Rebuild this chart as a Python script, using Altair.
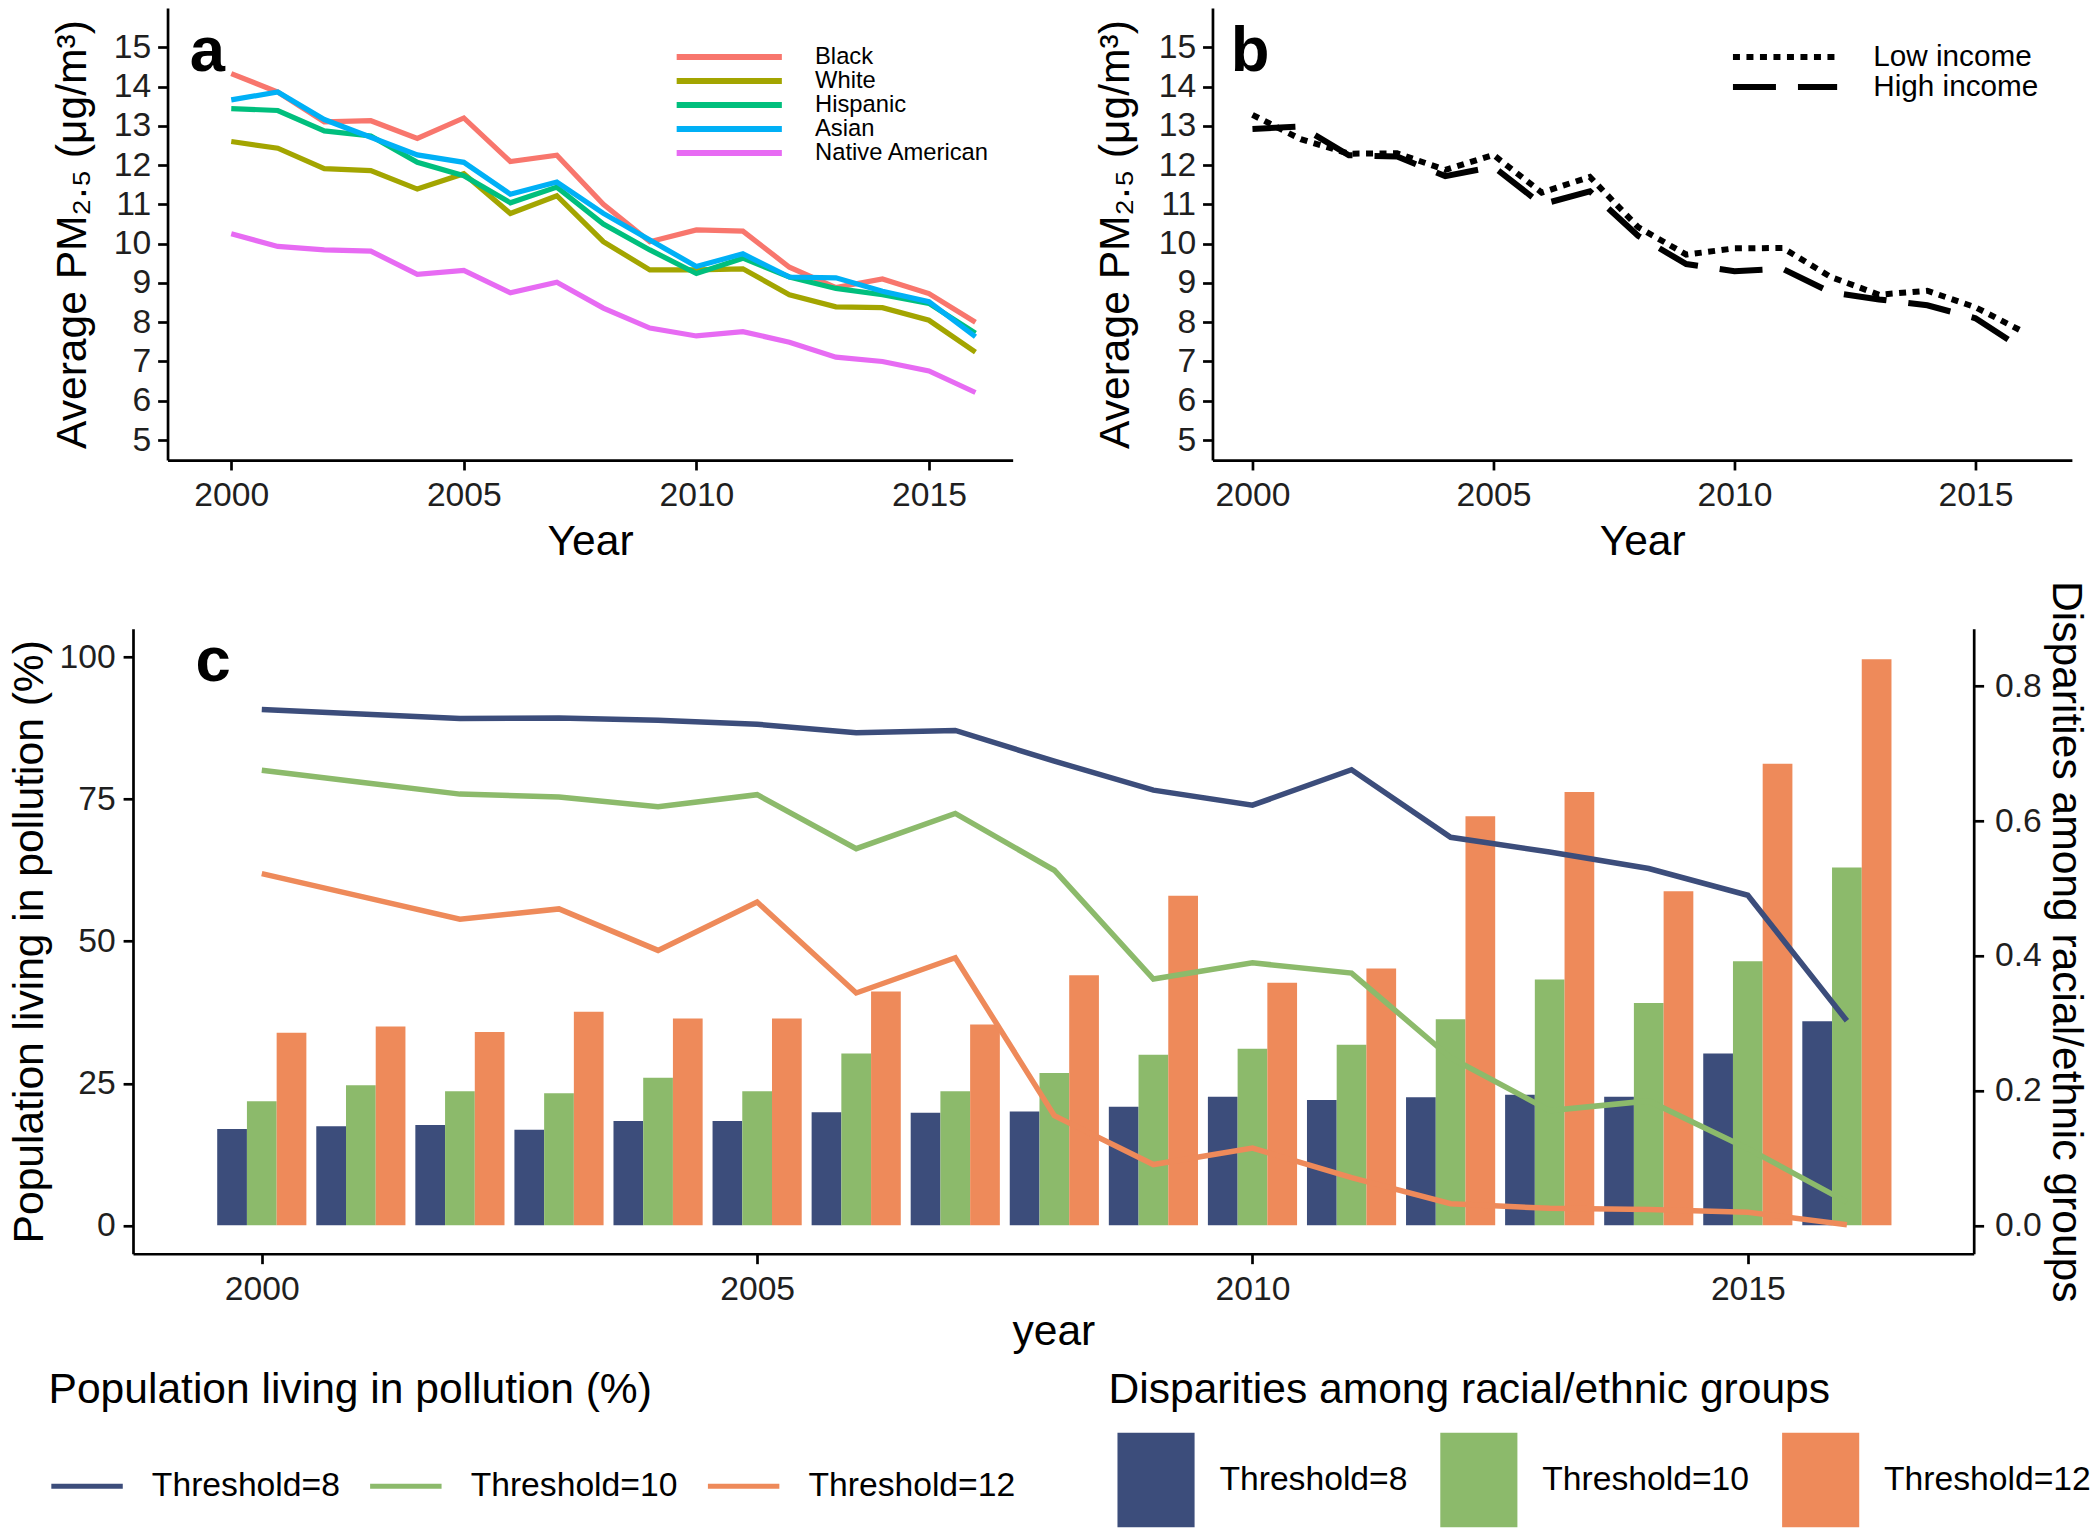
import altair as alt
import pandas as pd

# ---------------- layout helpers (reference px -> page px) ----------------
SX, SY, SF = 0.9924, 0.984, 0.99


def sx(v):
    return round(v * SX, 2)


def sy(v):
    return round(v * SY, 2)


def sf(v):
    return round(v * SF, 2)


FONT = "Liberation Sans"
INK = "#1f1f1f"

# ---------------- data ----------------
years = list(range(2000, 2017))

race_groups = ["Black", "White", "Hispanic", "Asian", "Native American"]
race_colors = ["#F8766D", "#A3A500", "#00BF7D", "#00B0F6", "#E76BF3"]
pm_black = [14.33, 13.86, 13.10, 13.13, 12.68, 13.20, 12.09, 12.25, 11.00, 10.05, 10.35, 10.32, 9.40, 8.88, 9.10, 8.73, 8.00]
pm_white = [12.60, 12.43, 11.91, 11.86, 11.39, 11.78, 10.77, 11.22, 10.05, 9.33, 9.33, 9.36, 8.70, 8.39, 8.37, 8.05, 7.24]
pm_hispanic = [13.44, 13.39, 12.87, 12.74, 12.07, 11.73, 11.04, 11.44, 10.50, 9.84, 9.24, 9.63, 9.15, 8.86, 8.70, 8.48, 7.72]
pm_asian = [13.66, 13.86, 13.16, 12.71, 12.26, 12.07, 11.26, 11.57, 10.77, 10.09, 9.42, 9.74, 9.15, 9.13, 8.79, 8.52, 7.63]
pm_native = [10.25, 9.93, 9.84, 9.81, 9.22, 9.32, 8.75, 9.02, 8.36, 7.85, 7.65, 7.76, 7.49, 7.11, 7.00, 6.76, 6.21]

income_groups = ["Low income", "High income"]
pm_low = [13.28, 12.66, 12.29, 12.30, 11.88, 12.26, 11.30, 11.70, 10.42, 9.72, 9.88, 9.89, 9.15, 8.70, 8.80, 8.38, 7.75]
pm_high = [12.92, 12.98, 12.25, 12.22, 11.72, 11.96, 11.00, 11.33, 10.20, 9.48, 9.30, 9.36, 8.76, 8.58, 8.43, 8.10, 7.30]

thresholds = ["Threshold=8", "Threshold=10", "Threshold=12"]
c_colors = ["#3C4D7B", "#8CBA6B", "#EE8A5A"]
pop_t8 = [90.8, 90.0, 89.2, 89.3, 88.9, 88.2, 86.7, 87.1, 81.7, 76.6, 73.95, 80.2, 68.3, 65.7, 62.8, 58.1, 36.0]
pop_t10 = [80.1, 78.0, 75.9, 75.4, 73.7, 75.8, 66.3, 72.5, 62.5, 43.35, 46.2, 44.4, 29.5, 20.2, 21.9, 13.5, 4.1]
pop_t12 = [61.9, 57.9, 53.9, 55.7, 48.4, 56.9, 40.9, 47.1, 19.3, 10.7, 13.6, 8.4, 3.8, 3.0, 2.8, 2.3, 0.1]
disp_t8 = [0.143, 0.147, 0.149, 0.142, 0.155, 0.155, 0.168, 0.167, 0.169, 0.176, 0.191, 0.186, 0.190, 0.194, 0.191, 0.255, 0.303]
disp_t10 = [0.184, 0.208, 0.199, 0.196, 0.219, 0.199, 0.255, 0.199, 0.226, 0.253, 0.262, 0.268, 0.306, 0.365, 0.330, 0.392, 0.531]
disp_t12 = [0.286, 0.295, 0.287, 0.317, 0.307, 0.307, 0.347, 0.298, 0.371, 0.489, 0.360, 0.381, 0.607, 0.643, 0.496, 0.685, 0.840]
disp_to_pct = 118.6  # secondary-axis factor

year_ticks = [2000, 2005, 2010, 2015]

# ---------------- tables ----------------
df_a = pd.DataFrame([
    {"year": y, "group": g, "pm": v}
    for g, vals in zip(race_groups, [pm_black, pm_white, pm_hispanic, pm_asian, pm_native])
    for y, v in zip(years, vals)
])
df_b = pd.DataFrame([
    {"year": y, "income": g, "pm": v}
    for g, vals in zip(income_groups, [pm_low, pm_high])
    for y, v in zip(years, vals)
])
df_c = pd.DataFrame([
    {"year": y, "group": g, "idx": i, "pct": p, "disp": d}
    for i, (g, pv, dv) in enumerate(zip(thresholds, [pop_t8, pop_t10, pop_t12], [disp_t8, disp_t10, disp_t12]))
    for y, p, d in zip(years, pv, dv)
])


def axis_style(**kw):
    base = dict(domainColor="black", domainWidth=2.7, tickColor="black", tickWidth=2.7,
                tickSize=sx(10), labelFont=FONT, labelFontSize=sf(34), labelColor=INK,
                titleFont=FONT, titleFontSize=sf(43), titleFontWeight="normal", titleColor="black",
                grid=False, labelFlush=False, labelOverlap=False)
    base.update(kw)
    return alt.Axis(**base)


C_LEFT = 128.6   # left edge of panel c's plot (panel a's view starts here too)

# ---------------- panel a ----------------
A_AXIS = 163.4
a_x = alt.X("year:Q",
            scale=alt.Scale(domain=[1998.63, 2016.8], range=[sx(A_AXIS - C_LEFT), sx(1015 - C_LEFT)],
                            nice=False, zero=False),
            axis=axis_style(values=year_ticks, format="d", title="Year",
                            labelPadding=sy(9), titlePadding=sy(8)))
a_y = alt.Y("pm:Q", scale=alt.Scale(domain=[4.49, 16.0], nice=False, zero=False),
            axis=axis_style(values=list(range(5, 16)), title="Average PM₂.₅ (μg/m³)",
                            offset=-sx(A_AXIS - C_LEFT), labelPadding=sx(7), titlePadding=sx(19)))

a_lines = alt.Chart(df_a).mark_line(strokeWidth=5.2).encode(
    x=a_x, y=a_y,
    color=alt.Color("group:N", sort=race_groups,
                    scale=alt.Scale(domain=race_groups, range=race_colors),
                    legend=alt.Legend(orient="none", legendX=sx(673 - C_LEFT), legendY=sy(54.8 - 11.5) - 5,
                                      title=None, direction="vertical", symbolType="stroke",
                                      symbolSize=sx(106) ** 2, symbolStrokeWidth=6, clipHeight=sy(23),
                                      labelFont=FONT, labelFontSize=sf(24), labelColor="black",
                                      labelOffset=sx(30), labelLimit=600, rowPadding=-2, padding=0)),
)
a_label = alt.Chart(pd.DataFrame({"year": [1999.11], "pm": [14.4], "t": ["a"]})).mark_text(
    font=FONT, fontSize=sf(64), fontWeight="bold", align="left", baseline="alphabetic", color="black"
).encode(x=a_x, y=a_y, text="t:N")
panel_a = alt.layer(a_lines, a_label).properties(width=sx(1015 - C_LEFT), height=sy(459.4))

# ---------------- panel b ----------------
B_LEFT = 1216
b_x = alt.X("year:Q", scale=alt.Scale(domain=[1999.17, 2017.0], nice=False, zero=False),
            axis=axis_style(values=year_ticks, format="d", title="Year",
                            labelPadding=sy(9), titlePadding=sy(8)))
b_y = alt.Y("pm:Q", scale=alt.Scale(domain=[4.49, 16.0], nice=False, zero=False),
            axis=axis_style(values=list(range(5, 16)), title="Average PM₂.₅ (μg/m³)",
                            labelPadding=sx(7), titlePadding=sx(21)))
b_lines = alt.Chart(df_b).mark_line(strokeWidth=6, color="black").encode(
    x=b_x, y=b_y,
    strokeDash=alt.StrokeDash("income:N", sort=income_groups,
                              scale=alt.Scale(domain=income_groups, range=[[7, 6.5], [43, 22]]),
                              legend=alt.Legend(orient="none", legendX=sx(1732 - B_LEFT) + 5, legendY=sy(55 - 15) - 5,
                                                title=None, direction="vertical", symbolType="stroke",
                                                symbolSize=sx(105) ** 2, symbolStrokeWidth=6,
                                                symbolStrokeColor="black", clipHeight=sy(30),
                                                labelFont=FONT, labelFontSize=sf(30), labelColor="black",
                                                labelOffset=sx(33), labelLimit=600, rowPadding=-2, padding=0)),
)
b_label = alt.Chart(pd.DataFrame({"year": [1999.55], "pm": [14.4], "t": ["b"]})).mark_text(
    font=FONT, fontSize=sf(64), fontWeight="bold", align="left", baseline="alphabetic", color="black"
).encode(x=b_x, y=b_y, text="t:N")
panel_b = alt.layer(b_lines, b_label).properties(width=sx(2082 - B_LEFT), height=sy(459.4))

# ---------------- panel c ----------------
c_xscale = alt.Scale(domain=[1998.7, 2017.28], nice=False, zero=False)
c_xaxis = axis_style(values=year_ticks, format="d", title="year", labelPadding=sy(9), titlePadding=sy(4.5))
c_y_left = alt.Y("pct:Q", scale=alt.Scale(domain=[-5, 105], nice=False, zero=False),
                 axis=axis_style(orient="left", values=[0, 25, 50, 75, 100],
                                 title="Population living in pollution (%)",
                                 labelPadding=sx(8), titlePadding=sx(8)))
c_x_year = alt.X("year:Q", scale=c_xscale, axis=c_xaxis)

C_H = sy(627) + 8
LEG_Y = sy(1378.8 - 632) + 5

bars = alt.Chart(df_c).transform_calculate(
    x_lo="datum.year - 0.45 + 0.3 * datum.idx",
    x_hi="datum.year - 0.15 + 0.3 * datum.idx",
).mark_bar().encode(
    x=alt.X("x_lo:Q", scale=c_xscale, axis=c_xaxis),
    x2="x_hi:Q",
    y=alt.Y("disp:Q",
            scale=alt.Scale(domain=[-5 / disp_to_pct, 105 / disp_to_pct], nice=False, zero=False),
            axis=axis_style(orient="right", values=[0, 0.2, 0.4, 0.6, 0.8], format=".1f",
                            title="Disparities among racial/ethnic groups",
                            labelPadding=sx(11), titlePadding=sx(2))),
    y2=alt.datum(0),
    fill=alt.Fill("group:N", sort=thresholds, scale=alt.Scale(range=c_colors),
                  legend=alt.Legend(orient="none", legendX=sx(1111.6 - C_LEFT), legendY=LEG_Y,
                                    title="Disparities among racial/ethnic groups", titleFont=FONT,
                                    titleFontSize=sf(43), titleFontWeight="normal", titleColor="black",
                                    titleLimit=2000, titlePadding=sy(1440.5 - 1378.8) - sf(43) + 3,
                                    direction="horizontal", columns=3,
                                    symbolType="M-0.8163,-1H0.8163V1H-0.8163Z",
                                    symbolSize=sy(96) ** 2, symbolStrokeWidth=0, symbolOpacity=1,
                                    labelFont=FONT, labelFontSize=sf(34), labelColor="black",
                                    labelOffset=sx(16), labelLimit=600, columnPadding=sx(24), padding=0)),
)

c_lines = alt.Chart(df_c).mark_line(strokeWidth=5.5).encode(
    x=c_x_year, y=c_y_left,
    stroke=alt.Stroke("group:N", sort=thresholds,
                      scale=alt.Scale(domain=thresholds, range=c_colors),
                      legend=alt.Legend(orient="none", legendX=sx(43.5 - C_LEFT), legendY=LEG_Y,
                                        title="Population living in pollution (%)", titleFont=FONT,
                                        titleFontSize=sf(43), titleFontWeight="normal", titleColor="black",
                                        titleLimit=2000, titlePadding=sy(1473 - 1378.8) - sf(43) + 8,
                                        direction="horizontal", columns=3, symbolType="stroke",
                                        symbolSize=sx(72) ** 2, symbolStrokeWidth=5, clipHeight=sf(34),
                                        labelFont=FONT, labelFontSize=sf(34), labelColor="black",
                                        labelOffset=sx(26.5), labelLimit=600, columnPadding=sx(27), padding=0)),
)
c_label = alt.Chart(pd.DataFrame({"year": [1999.33], "pct": [95.8], "t": ["c"]})).mark_text(
    font=FONT, fontSize=sf(64), fontWeight="bold", align="left", baseline="alphabetic", color="black"
).encode(x=c_x_year, y=c_y_left, text="t:N")

panel_c = alt.layer(bars, alt.layer(c_lines, c_label)).resolve_scale(y="independent").properties(
    width=sx(1983.4 - C_LEFT), height=C_H
)

indep = dict(color="independent", strokeDash="independent", stroke="independent", fill="independent")

top_row = alt.hconcat(panel_a, panel_b, spacing=sx(B_LEFT - 1015), bounds="flush") \
    .resolve_scale(**indep).resolve_legend(**indep)

chart = alt.vconcat(
    top_row, panel_c,
    spacing=round(sy(13) + 4, 2),
    bounds="full",
    padding=0,
    background="white",
).resolve_scale(**indep).resolve_legend(**indep).configure(font=FONT).configure_view(
    stroke=None, strokeWidth=0
)

chart.save("out.html", embed_options={"renderer": "svg", "actions": False})
